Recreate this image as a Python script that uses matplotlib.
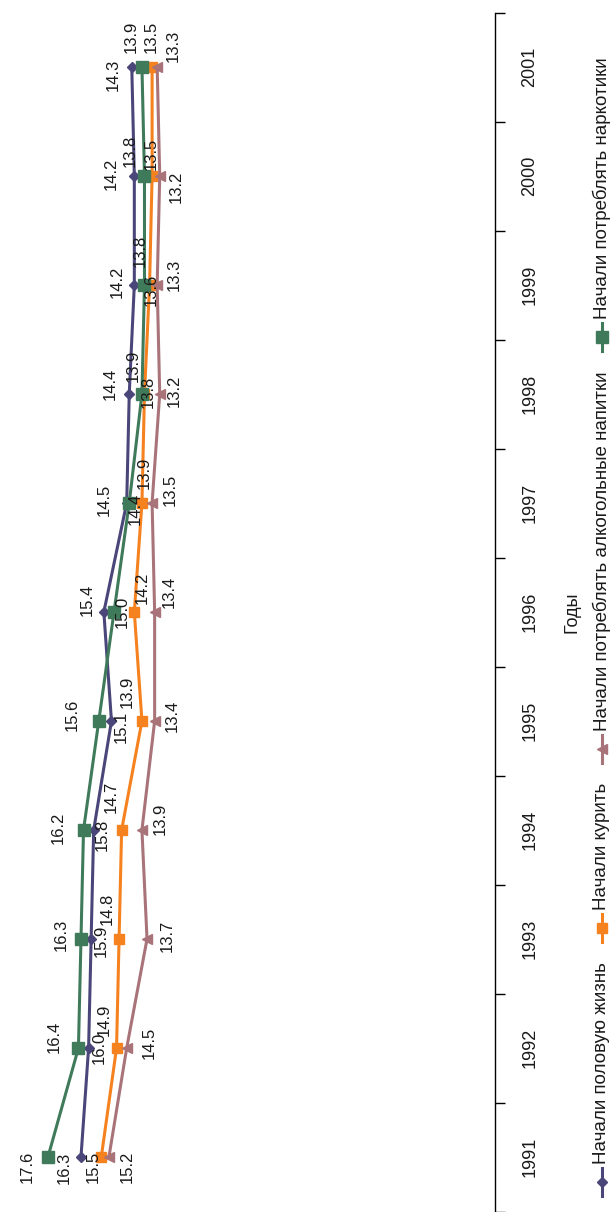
import matplotlib
matplotlib.use("Agg")
import matplotlib.pyplot as plt
import numpy as np
from matplotlib.lines import Line2D

plt.rcParams['font.family'] = ['Liberation Sans', 'DejaVu Sans']

years = [1991, 1992, 1993, 1994, 1995, 1996, 1997, 1998, 1999, 2000, 2001]
sex = [16.3, 16.0, 15.9, 15.8, 15.1, 15.4, 14.5, 14.4, 14.2, 14.2, 14.3]
smoking = [15.5, 14.9, 14.8, 14.7, 13.9, 14.2, 13.9, 13.8, 13.6, 13.5, 13.5]
alcohol = [15.2, 14.5, 13.7, 13.9, 13.4, 13.4, 13.5, 13.2, 13.3, 13.2, 13.3]
drugs = [17.6, 16.4, 16.3, 16.2, 15.6, 15.0, 14.4, 13.9, 13.8, 13.8, 13.9]
names = ['Начали половую жизнь', 'Начали курить',
         'Начали потреблять алкогольные напитки', 'Начали потреблять наркотики']
axis_title = 'Годы'

# colour, marker, marker size (the whole chart is turned 90 degrees)
styles = [('#4A4679', 'D', 5.5),
          ('#F5821F', 's', 7),
          ('#A97479', '<', 7.5),
          ('#3F7A5B', 's', 8.5)]

# where each value label sits, pixels from its point (right, down)
label_offsets = [
    [(-17, 11), (11, 0), (10, 2), (9, 5), (10, 6), (-17, -12), (-22, -3),
     (-19, -10), (-17, -3), (-23, -2), (-19, 8)],
    [(-8, 10), (-12, -28), (-12, -30), (-10, -33), (-15, -29), (8, -24),
     (2, -30), (4, -2), (2, 5), (-1, -22), (-1, -30)],
    [(18, 10), (23, -5), (20, -3), (18, -11), (18, -5), (15, -20), (18, -13),
     (15, -3), (17, -10), (17, 11), (16, -21)],
    [(-21, 10), (-24, -11), (-20, -4), (-25, -2), (-27, -6), (8, 0), (6, 6),
     (-9, -28), (-4, -34), (-14, -25), (-11, -30)],
]

W, H = 610, 1212
fig = plt.figure(figsize=(W / 100, H / 100), dpi=100)
ax = fig.add_axes([-13 / W, 0.5 / H, 508 / W, 1199 / H])

series = [sex, smoking, alcohol, drugs]
for values, (color, marker, ms), offs in zip(series, styles, label_offsets):
    ax.plot(values, years, color=color, lw=2.2, marker=marker, ms=ms,
            mec=color, mfc=color, clip_on=False)
    for v, yr, (dx, dy) in zip(values, years, offs):
        ax.annotate(f'{v:.1f}', (v, yr), xytext=(dx, -dy),
                    textcoords='offset pixels', rotation=90,
                    ha='center', va='center', fontsize=12, color='#1a1a1a')

ax.set_xlim(20, 0)
ax.set_ylim(1990.5, 2001.5)
ax.set_xticks([])
for side in ['left', 'top', 'bottom']:
    ax.spines[side].set_visible(False)
ax.spines['right'].set_linewidth(1)

ax.yaxis.tick_right()
ax.set_yticks(np.arange(1990.5, 2002, 1))
ax.set_yticklabels([])
ax.set_yticks(years, minor=True)
ax.set_yticklabels([str(y) for y in years], minor=True, rotation=90,
                   va='center', fontsize=13, color='#1a1a1a')
ax.tick_params(axis='y', which='major', direction='out', length=7, width=1)
ax.tick_params(axis='y', which='minor', length=0, pad=19)

ax.yaxis.set_label_position('right')
ax.set_ylabel(axis_title, fontsize=13, labelpad=18, color='#1a1a1a')

# legend, built by hand so it can be turned like the rest
renderer = fig.canvas.get_renderer()
lx = 602
y = 16
for name, (color, marker, ms) in zip(names, styles):
    fig.add_artist(Line2D([lx / W] * 2, [y / H, (y + 28) / H], color=color, lw=2.2))
    fig.add_artist(Line2D([lx / W], [(y + 14) / H], marker=marker, ms=ms,
                          color=color, ls='none'))
    y += 28 + 4
    t = fig.text(lx / W, y / H, name, rotation=90, ha='center', va='bottom',
                 fontsize=13.5, color='#1a1a1a')
    bb = t.get_window_extent(renderer)
    y += bb.height + 20

fig.savefig('out.png', dpi=100)
